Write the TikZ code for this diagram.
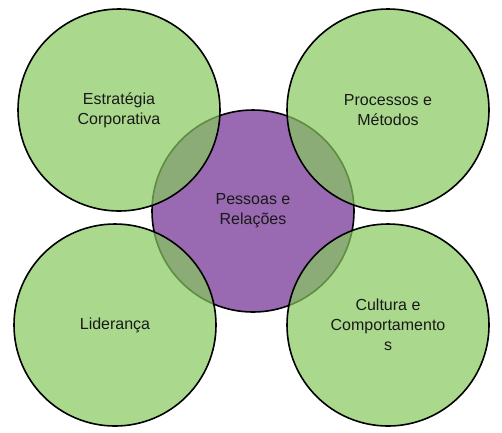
\documentclass[tikz,border=0pt]{standalone}
\usepackage{fontspec}
\setmainfont{Liberation Sans}
\definecolor{ggreen}{RGB}{134,201,94}
\definecolor{ppurple}{RGB}{153,106,178}
\begin{document}
\begin{tikzpicture}[x=1pt,y=-1pt,
  basecirc/.style={circle, draw=black, line width=1.6pt, minimum size=202pt, inner sep=0pt, align=center, font=\fontsize{16}{20}\selectfont, text=black!90},
  greencirc/.style={basecirc, fill=ggreen, fill opacity=0.7, text opacity=1},
  purplecirc/.style={basecirc, fill=ppurple}]
\fill[white] (0,0) rectangle (502,432);
\useasboundingbox (0,0) rectangle (502,432);
\node[purplecirc] (c) at (253,211) {Pessoas e\\Relações};
\node[greencirc] (tl) at (119,110) {Estratégia\\Corporativa};
\node[greencirc] (tr) at (388,110) {Processos e\\Métodos};
\node[greencirc] (bl) at (115,325) {Liderança};
\node[greencirc] (br) at (388,325) {Cultura e\\Comportamento\\s};
\end{tikzpicture}
\end{document}
